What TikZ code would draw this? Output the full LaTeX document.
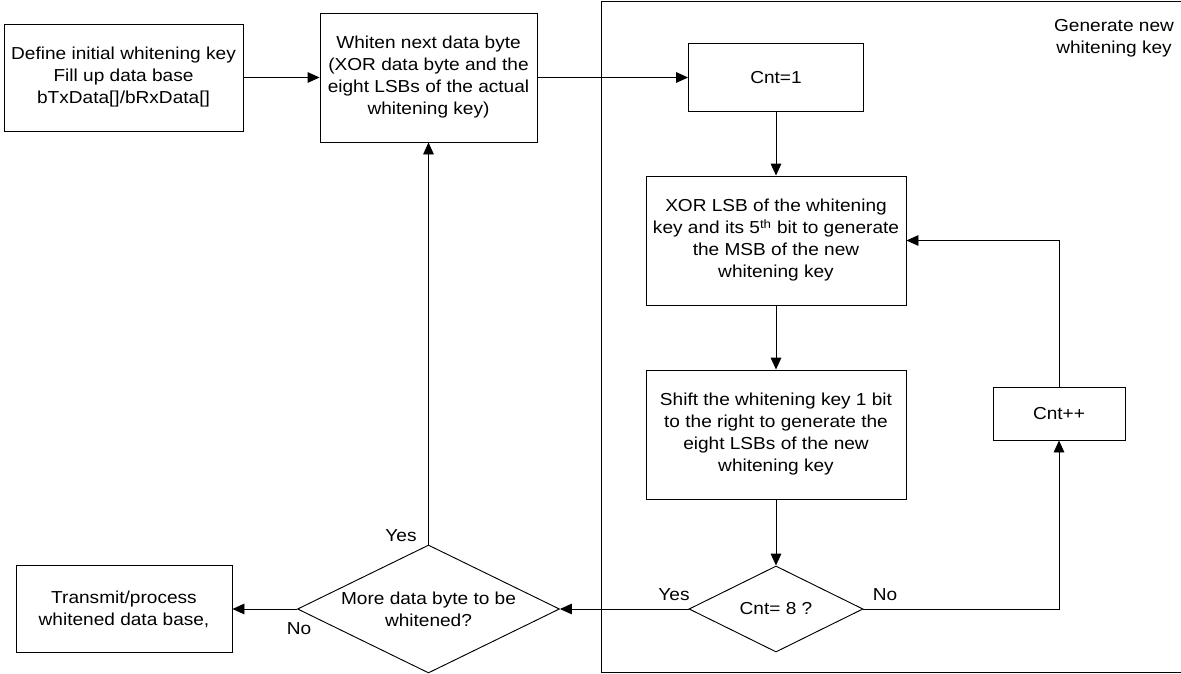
\documentclass[tikz,border=0pt]{standalone}
\usepackage{fontspec}
\setmainfont{Liberation Sans}[FakeStretch=1.1]
\usetikzlibrary{shapes.geometric,arrows.meta}

\begin{document}
\begin{tikzpicture}[x=0.75pt, y=-0.75pt, line width=0.7pt,
	font=\fontsize{13}{16.5}\selectfont,
	box/.style={draw, rectangle, align=center, inner sep=2pt},
	decision/.style={draw, diamond, align=center, inner sep=0pt},
	flow/.style={-{Triangle[length=9pt,width=8pt]}}]
	\useasboundingbox (0,0) rectangle (1181,674);
	%frame of the key generation
	\draw (1181,1.5) -- (601,1.5) -- (601,672) -- (1181,672);
	\node[align=center] (gentitle) at (1114,38) {Generate new\\whitening key};
	%boxes
	\node[box, minimum width=179.25pt, minimum height=80.25pt] (init) at (123.5,77.5)
	{Define initial whitening key\\Fill up data base\\bTxData[]/bRxData[]};
	\node[box, minimum width=162.75pt, minimum height=96.75pt] (whiten) at (428.5,77.5)
	{Whiten next data byte\\(XOR data byte and the\\eight LSBs of the actual\\whitening key)};
	\node[box, minimum width=131.25pt, minimum height=51pt] (cntone) at (776,77.5) {Cnt=1};
	\node[box, minimum width=195pt, minimum height=96.75pt] (xorkey) at (776,240.5)
	{XOR LSB of the whitening\\key and its 5\textsuperscript{th} bit to generate\\the MSB of the new\\whitening key};
	\node[box, minimum width=195pt, minimum height=96.75pt] (shiftkey) at (776,434.5)
	{Shift the whitening key 1 bit\\to the right to generate the\\eight LSBs of the new\\whitening key};
	\node[box, minimum width=99pt, minimum height=39.75pt] (cntinc) at (1059,413.5) {Cnt++};
	\node[box, minimum width=162pt, minimum height=65.25pt] (transmit) at (124,609)
	{Transmit/process\\whitened data base,};
	%decisions
	\node[decision, minimum width=130.5pt, minimum height=64.5pt] (cnteight) at (776,609) {Cnt= 8 ?};
	\node[decision, minimum width=196.5pt, minimum height=96pt] (more) at (428.5,609) {};
	\node[align=center] (moretext) at (more.center) {More data byte to be\\whitened?};
	%labels
	\node (yesmore) at (401,536) {Yes};
	\node (nomore) at (299,629) {No};
	\node (yescnt) at (674,595) {Yes};
	\node (nocnt) at (885,595) {No};
	%arrows
	\draw[flow] (init) -- (whiten);
	\draw[flow] (whiten) -- (cntone);
	\draw[flow] (cntone) -- (xorkey);
	\draw[flow] (xorkey) -- (shiftkey);
	\draw[flow] (shiftkey) -- (cnteight);
	\draw[flow] (cnteight.east) -| (cntinc.south);
	\draw[flow] (cntinc.north) |- (xorkey.east);
	\draw[flow] (cnteight.west) -- (more.east);
	\draw[flow] (more.north) -- (whiten.south);
	\draw[flow] (more.west) -- (transmit.east);
\end{tikzpicture}
\end{document}
